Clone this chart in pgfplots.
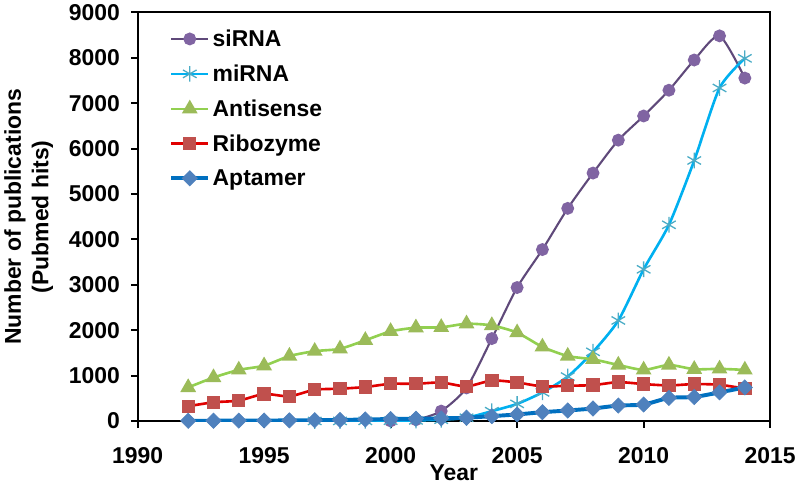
\documentclass[border=0pt]{standalone}
\usepackage{pgfplots}
\pgfplotsset{compat=1.18}
\usepackage{fontspec}
\setmainfont{Liberation Sans}
\definecolor{siline}{HTML}{5F497A}
\definecolor{simark}{HTML}{8064A2}
\definecolor{miline}{HTML}{00B0F0}
\definecolor{mimark}{HTML}{4BACC6}
\definecolor{anline}{HTML}{92D050}
\definecolor{anmark}{HTML}{9BBB59}
\definecolor{riline}{HTML}{E00000}
\definecolor{rimark}{HTML}{C0504D}
\definecolor{apline}{HTML}{0070C0}
\definecolor{apmark}{HTML}{4F81BD}
\newcommand{\bigfont}{\fontsize{17.5}{21}\selectfont\bfseries}
\begin{document}
\begin{tikzpicture}
\begin{axis}[
  scale only axis, width=483pt, height=312pt,
  xmin=1990, xmax=2015, ymin=0, ymax=9000,
  xtick={1990,1995,...,2015}, ytick={0,1000,...,9000},
  axis line style={line width=1.5pt, black},
  tick style={line width=1.5pt, black},
  tick align=outside, major tick length=5pt,
  xtick pos=bottom, ytick pos=left,
  /pgf/number format/assume math mode=true,
  /pgf/number format/1000 sep={},
  ticklabel style={font=\bigfont},
  yticklabel style={xshift=-5pt},
  xticklabel style={yshift=-21.5pt, anchor=center},
  xlabel={Year}, ylabel={Number of publications\\(Pubmed hits)},
  label style={font=\bigfont},
  ylabel style={align=center, at={(axis description cs:-0.172,0.5)}, anchor=center},
  xlabel style={at={(axis description cs:0.5,0)}, yshift=-39.5pt, anchor=center},
  legend style={draw=none, fill=none, at={(0.05,0.965)}, anchor=north west, font=\bigfont, row sep=8.5pt, inner sep=0pt},
  legend cell align=left,
  legend image code/.code={\draw[mark repeat=2,mark phase=2] plot coordinates {(0pt,0pt)(14pt,0pt)(28pt,0pt)};},
]
\addplot[siline, line width=1.6pt, smooth, tension=0.4, mark=*, mark size=4.1pt, mark options={fill=simark, draw=simark}] coordinates {
(2000,3)(2001,30)(2002,220)(2003,730)(2004,1817)(2005,2942)(2006,3778)(2007,4685)(2008,5463)(2009,6188)(2010,6720)(2011,7287)(2012,7953)(2013,8485)(2014,7555)};
\addlegendentry{siRNA}
\addplot[miline, line width=2pt, smooth, tension=0.4, mark=asterisk, mark size=6pt, mark options={draw=mimark, line width=1pt}] coordinates {
(1997,2)(1998,3)(1999,5)(2000,8)(2001,15)(2002,30)(2003,74)(2004,218)(2005,379)(2006,632)(2007,980)(2008,1525)(2009,2216)(2010,3343)(2011,4323)(2012,5740)(2013,7337)(2014,7990)};
\addlegendentry{miRNA}
\addplot[anline, line width=2pt, smooth, tension=0.4, mark=triangle*, mark size=5pt, mark options={fill=anmark, draw=anmark}] coordinates {
(1992,741)(1993,959)(1994,1127)(1995,1220)(1996,1432)(1997,1540)(1998,1591)(1999,1780)(2000,1976)(2001,2057)(2002,2065)(2003,2144)(2004,2107)(2005,1948)(2006,1634)(2007,1432)(2008,1360)(2009,1236)(2010,1127)(2011,1236)(2012,1142)(2013,1150)(2014,1127)};
\addlegendentry{Antisense}
\addplot[riline, line width=2pt, smooth, tension=0.4, mark=square*, mark size=4.1pt, mark options={fill=rimark, draw=rimark}] coordinates {
(1992,327)(1993,414)(1994,451)(1995,597)(1996,545)(1997,691)(1998,713)(1999,750)(2000,821)(2001,821)(2002,850)(2003,763)(2004,893)(2005,850)(2006,763)(2007,778)(2008,792)(2009,858)(2010,815)(2011,785)(2012,815)(2013,800)(2014,715)};
\addlegendentry{Ribozyme}
\addplot[apline, line width=3pt, smooth, tension=0.4, mark=square*, mark size=4.1pt, mark options={fill=apmark, draw=apmark, rotate=45, line width=0.5pt}] coordinates {
(1992,5)(1993,8)(1994,10)(1995,12)(1996,15)(1997,20)(1998,25)(1999,35)(2000,45)(2001,52)(2002,60)(2003,74)(2004,109)(2005,146)(2006,196)(2007,233)(2008,277)(2009,342)(2010,364)(2011,510)(2012,531)(2013,632)(2014,741)};
\addlegendentry{Aptamer}
\end{axis}
\end{tikzpicture}
\end{document}
